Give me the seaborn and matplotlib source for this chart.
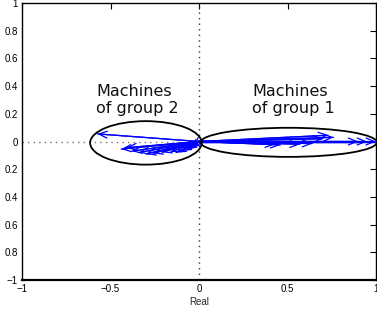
import numpy as np
import pandas as pd
import matplotlib
matplotlib.use("Agg")
import matplotlib.pyplot as plt
import seaborn as sns
from matplotlib.patches import Ellipse

# ---- data ----
g1_re = [1.00, 0.95, 0.90, 0.76, 0.73, 0.70, 0.64, 0.57, 0.46, 0.43]
g1_im = [0.00, 0.00, 0.00, 0.03, 0.045, 0.02, -0.015, -0.02, -0.025, -0.02]
g2_re = [-0.575, -0.44, -0.41, -0.38, -0.34, -0.30, -0.26, -0.21, -0.16, -0.13, -0.10, -0.07, -0.05, -0.03]
g2_im = [0.055, -0.055, -0.045, -0.07, -0.08, -0.09, -0.085, -0.078, -0.075, -0.08, -0.07, -0.06, -0.05, -0.04]
ell_centers = [(0.507, -0.006), (-0.30, -0.01)]
ell_sizes = [(0.995, 0.21), (0.63, 0.314)]
labels = ["Machines\nof group 1", "Machines\nof group 2"]
label_pos = [(0.30, 0.30), (-0.58, 0.30)]
xticks = [-1, -0.5, 0, 0.5, 1]
xtick_labels = ["\u22121", "\u22120.5", "0", "0.5", "1"]
yticks = [-1, -0.8, -0.6, -0.4, -0.2, 0, 0.2, 0.4, 0.6, 0.8, 1]
ytick_labels = ["\u22121", "0.8", "0.6", "0.4", "0.2", "0", "0.2", "0.4", "0.6", "0.8", "1"]

sns.set_style("white")
plt.rcParams['font.family'] = ['Liberation Sans', 'DejaVu Sans']

fig = plt.figure(figsize=(3.77, 3.13), dpi=100)
ax = fig.add_axes([22/377, 1-280/313, (376-22)/377, (280-3)/313])

# dotted axes
ax.axhline(0, color="0.45", lw=1, ls=(0, (1, 3)), zorder=1)
ax.axvline(0, color="0.2", lw=1, ls=(0, (1, 3)), zorder=1)

# arrow shafts through seaborn
re = g1_re + g2_re
im = g1_im + g2_im
rows = []
for i, (r, m) in enumerate(zip(re, im)):
    rows.append({"id": i, "x": 0.0, "y": 0.0, "k": 0})
    rows.append({"id": i, "x": r, "y": m, "k": 1})
df = pd.DataFrame(rows)
sns.lineplot(data=df, x="x", y="y", units="id", estimator=None, sort=False,
             color="#0000ff", lw=0.9, ax=ax, legend=False)
for r, m in zip(re, im):
    ax.annotate("", xy=(r, m), xytext=(0, 0),
                arrowprops=dict(arrowstyle="->,head_length=0.6,head_width=0.25",
                                color="#0000ff", lw=0.9, shrinkA=0, shrinkB=0))

for (c, s) in zip(ell_centers, ell_sizes):
    ax.add_patch(Ellipse(c, s[0], s[1], fill=False, ec="black", lw=1.3, zorder=3))

for t, p in zip(labels, label_pos):
    ax.text(p[0], p[1], t, ha="left", va="center", fontsize=11.5,
            family="DejaVu Sans", color="#111111", linespacing=1.15)

ax.set_xlim(-1, 1)
ax.set_ylim(-1, 1)
ax.set_xticks(xticks)
ax.set_xticklabels(xtick_labels)
ax.set_yticks(yticks)
ax.set_yticklabels(ytick_labels)
ax.tick_params(direction="in", length=4, width=0.8, labelsize=7, top=True, right=True,
               colors="black", pad=3)
for sp in ax.spines.values():
    sp.set_visible(True)
    sp.set_color("black")
    sp.set_linewidth(1.0)
ax.spines["bottom"].set_linewidth(1.6)
ax.set_xlabel("Real", fontsize=7, labelpad=2)
ax.set_ylabel("")

fig.savefig("out.png", dpi=100)
